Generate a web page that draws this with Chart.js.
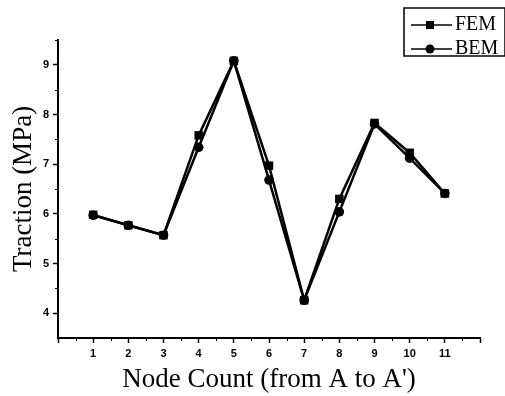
<!DOCTYPE html>
<html>
<head>
<meta charset="utf-8">
<script src="https://cdn.jsdelivr.net/npm/chart.js@4/dist/chart.umd.min.js"></script>
<style>
  html, body { margin: 0; padding: 0; background: #ffffff; }
  #c { display: block; }
</style>
</head>
<body>
<canvas id="c" width="505" height="396"></canvas>
<script>
// ---- data ----
const nodes = [1, 2, 3, 4, 5, 6, 7, 8, 9, 10, 11];
const femValues = [5.98, 5.77, 5.57, 7.58, 9.08, 6.97, 4.26, 6.30, 7.83, 7.23, 6.41];
const bemValues = [5.97, 5.77, 5.57, 7.34, 9.08, 6.68, 4.26, 6.04, 7.81, 7.12, 6.41];
const xTickValues = [0, 1, 2, 3, 4, 5, 6, 7, 8, 9, 10, 11, 12];
const yTickValues = [4, 5, 6, 7, 8, 9];
const xMinorTicks = [0.5, 1.5, 2.5, 3.5, 4.5, 5.5, 6.5, 7.5, 8.5, 9.5, 10.5, 11.5];
const yMinorTicks = [4.5, 5.5, 6.5, 7.5, 8.5, 9.5];
const seriesNames = ['FEM', 'BEM'];

function toPoints(values) {
  return nodes.map((n, i) => ({ x: n, y: values[i] }));
}

// legend icons: line with marker in the middle
function makeIcon(kind) {
  const cv = document.createElement('canvas');
  cv.width = 44; cv.height = 12;
  const g = cv.getContext('2d');
  g.strokeStyle = '#000'; g.lineWidth = 1.5;
  g.beginPath(); g.moveTo(0, 6); g.lineTo(44, 6); g.stroke();
  g.fillStyle = '#000';
  if (kind === 'rect') { g.fillRect(18, 2, 8, 8); }
  else { g.beginPath(); g.arc(22, 6, 4.5, 0, Math.PI * 2); g.fill(); }
  return cv;
}
const legendIcons = [makeIcon('rect'), makeIcon('circle')];

const legendPlacer = {
  id: 'legendPlacer',
  beforeDraw(chart) {
    const lg = chart.legend;
    if (!lg) return;
    lg.left = 411; lg.top = 11;
    lg.right = lg.left + lg.width; lg.bottom = lg.top + lg.height;
  },
  afterDraw(chart) {
    const lg = chart.legend;
    const ctx = chart.ctx;
    ctx.save();
    ctx.strokeStyle = '#000';
    ctx.lineWidth = 1.5;
    ctx.strokeRect(lg.left - 7, lg.top - 3, 101, 48);
    ctx.restore();
  }
};

const minorTicks = {
  id: 'minorTicks',
  afterDraw(chart) {
    const ctx = chart.ctx;
    const xs = chart.scales.x, ys = chart.scales.y;
    const a = chart.chartArea;
    ctx.save();
    ctx.strokeStyle = '#000';
    ctx.lineWidth = 1;
    ctx.beginPath();
    xMinorTicks.forEach(v => {
      const px = Math.round(xs.getPixelForValue(v)) + 0.5;
      ctx.moveTo(px, a.bottom); ctx.lineTo(px, a.bottom + 3);
    });
    yMinorTicks.forEach(v => {
      const py = Math.round(ys.getPixelForValue(v)) + 0.5;
      ctx.moveTo(a.left - 3, py); ctx.lineTo(a.left, py);
    });
    ctx.stroke();
    ctx.restore();
  }
};

const tickFont = { family: '"Liberation Sans", Arial, sans-serif', size: 11, weight: 'bold' };
const titleFont = { family: '"Liberation Serif", "Times New Roman", serif', size: 27, weight: 'normal', lineHeight: 1.2 };

new Chart(document.getElementById('c'), {
  type: 'line',
  data: {
    datasets: [
      {
        label: seriesNames[0],
        data: toPoints(femValues),
        borderColor: '#000', backgroundColor: '#000',
        borderWidth: 2.5, pointStyle: 'rect', pointRadius: 6, pointBorderWidth: 0,
        tension: 0
      },
      {
        label: seriesNames[1],
        data: toPoints(bemValues),
        borderColor: '#000', backgroundColor: '#000',
        borderWidth: 2.5, pointStyle: 'circle', pointRadius: 4.8, pointBorderWidth: 0,
        tension: 0
      }
    ]
  },
  options: {
    responsive: false,
    animation: false,
    devicePixelRatio: 1,
    layout: { padding: { top: 40, right: 25, left: 0, bottom: 0 } },
    plugins: {
      tooltip: { enabled: false },
      legend: {
        position: 'chartArea',
        align: 'start',
        labels: {
          usePointStyle: true,
          pointStyleWidth: 30,
          padding: 4,
          color: '#000',
          font: { family: '"Liberation Serif", "Times New Roman", serif', size: 20 },
          generateLabels(chart) {
            const items = Chart.defaults.plugins.legend.labels.generateLabels(chart);
            items.forEach((it, i) => { it.pointStyle = legendIcons[i]; });
            return items;
          }
        }
      }
    },
    scales: {
      x: {
        type: 'linear',
        min: 0, max: 12,
        afterBuildTicks(scale) { scale.ticks = xTickValues.map(v => ({ value: v })); },
        afterFit(scale) { scale.height = 58; },
        grid: { drawOnChartArea: false, drawTicks: true, tickLength: 5, tickColor: '#000', tickWidth: 1.5 },
        border: { display: true, color: '#000', width: 2 },
        ticks: {
          autoSkip: false, maxRotation: 0, padding: 4, color: '#000', font: tickFont,
          callback(v) { return (v >= 1 && v <= 11) ? String(v) : ''; }
        },
        title: {
          display: true, text: "Node Count (from A to A')", color: '#000',
          font: titleFont, padding: { top: 0, bottom: 0 }
        }
      },
      y: {
        type: 'linear',
        min: 3.5, max: 9.5,
        afterBuildTicks(scale) { scale.ticks = yTickValues.map(v => ({ value: v })); },
        afterFit(scale) { scale.width = 58; },
        grid: { drawOnChartArea: false, drawTicks: true, tickLength: 5, tickColor: '#000', tickWidth: 1.5 },
        border: { display: true, color: '#000', width: 2 },
        ticks: {
          autoSkip: false, padding: 4, color: '#000', font: tickFont,
          callback(v) { return String(v); }
        },
        title: {
          display: true, text: 'Traction (MPa)', color: '#000',
          font: titleFont, padding: { top: 8, bottom: 0 }
        }
      }
    }
  },
  plugins: [legendPlacer, minorTicks]
});
</script>
</body>
</html>
